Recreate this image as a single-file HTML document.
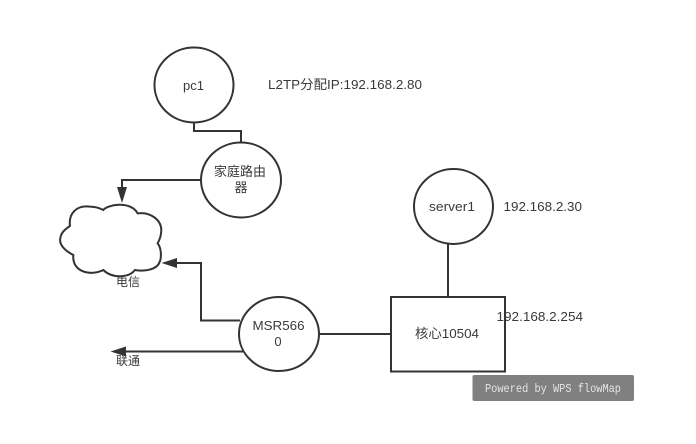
<!DOCTYPE html>
<html><head><meta charset="utf-8"><style>
html,body{margin:0;padding:0;background:#fff;width:696px;height:444px;overflow:hidden}
svg{display:block}
text{font-family:"Liberation Sans","Noto Sans CJK SC",sans-serif;font-size:13px;fill:#3a3a3a;lengthAdjust:spacingAndGlyphs}
</style></head><body>
<svg width="696" height="444" viewBox="0 0 696 444" xmlns="http://www.w3.org/2000/svg">
<g fill="none" stroke="#333" stroke-width="2">
<path d="M194 122V131H241V143"/>
<path d="M201 180H122V190"/>
<path d="M240 320.500H201V263H174"/>
<path d="M243 351.500H124"/>
<path d="M319 334H391"/>
<path d="M448 244V297"/>
<ellipse cx="194" cy="85" rx="39.500" ry="37.500" fill="#fff"/>
<ellipse cx="241" cy="180" rx="40" ry="37.500" fill="#fff"/>
<ellipse cx="453.500" cy="206.500" rx="39.500" ry="37.500" fill="#fff"/>
<ellipse cx="279" cy="334" rx="40" ry="37" fill="#fff"/>
<rect x="391" y="297" width="114" height="74.500" fill="#fff"/>
<path transform="translate(40 130) scale(.3333)" stroke-width="6" fill="#fff" d="M190 240C200 225 270 210 293 250C330 245 370 270 363 310C362 325 355 335 353 340C365 355 365 385 358 398C350 420 310 425 285 420C265 445 215 445 190 420C150 440 95 425 100 375C70 360 55 340 62 320C65 305 80 295 90 288C85 250 110 225 150 230C165 230 180 235 190 240Z"/>
</g>
<g fill="#333">
<path d="M122 203L117 187H127Z"/>
<path d="M161.500 263L177 258V268Z"/>
<path d="M110.500 351.500L126 346.500V356.500Z"/>
</g>
<text x="183" y="90" textLength="21" lengthAdjust="spacingAndGlyphs">pc1</text>
<text x="268" y="89" textLength="154" lengthAdjust="spacingAndGlyphs">L2TP分配IP:192.168.2.80</text>
<text x="214" y="176" textLength="52" lengthAdjust="spacingAndGlyphs">家庭路由</text>
<text x="241" y="192" text-anchor="middle">器</text>
<text x="429" y="211" textLength="46" lengthAdjust="spacingAndGlyphs">server1</text>
<text x="503.500" y="211" textLength="78.500" lengthAdjust="spacingAndGlyphs">192.168.2.30</text>
<text x="128" y="286" text-anchor="middle" style="font-size:12px">电信</text>
<text x="128" y="365" text-anchor="middle" style="font-size:12px">联通</text>
<text x="252.500" y="330" textLength="52" lengthAdjust="spacingAndGlyphs">MSR566</text>
<text x="278" y="346" text-anchor="middle">0</text>
<text x="415" y="338" textLength="64" lengthAdjust="spacingAndGlyphs">核心10504</text>
<text x="496.500" y="321" textLength="86.500" lengthAdjust="spacingAndGlyphs">192.168.2.254</text>
<rect x="472.500" y="375" width="161.500" height="26" rx="2" fill="#808080"/>
<text x="485" y="392" textLength="136" lengthAdjust="spacingAndGlyphs" style='font-family:"Liberation Mono",monospace;font-size:12px;fill:#e4e4e4'>Powered by WPS flowMap</text>
</svg>
</body></html>
